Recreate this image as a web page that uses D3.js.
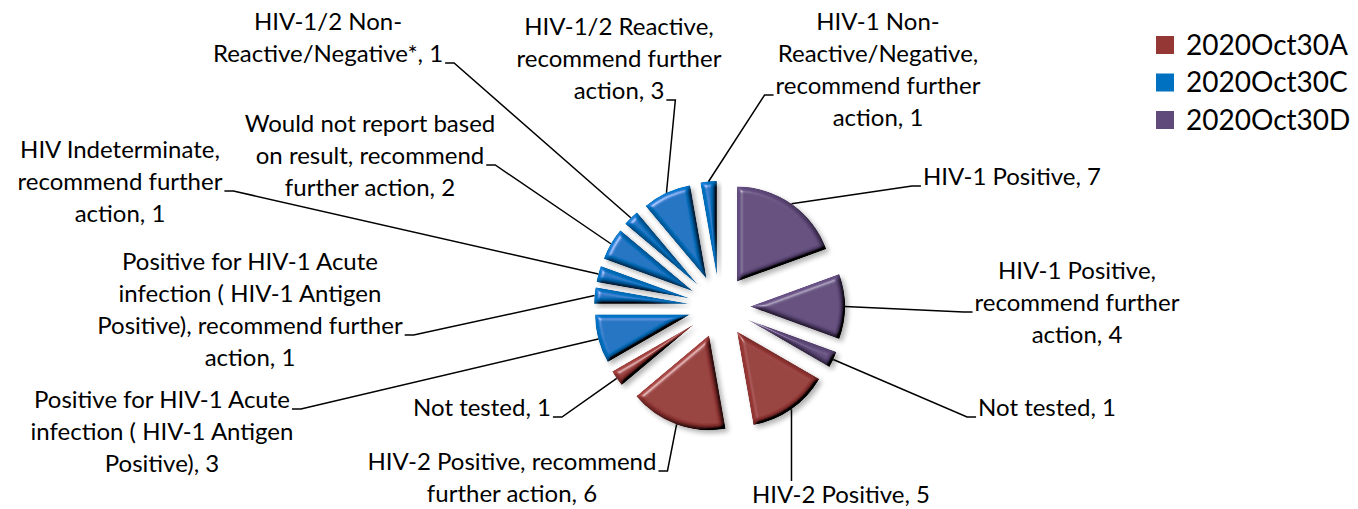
<!DOCTYPE html>
<html>
<head>
<meta charset="utf-8">
<script src="https://cdn.jsdelivr.net/npm/d3@7"></script>
<style>
  body { margin: 0; background: #fff; }
  text { font-family: Lato, "Open Sans", sans-serif; fill: #000; }
</style>
</head>
<body>
<script>
// data, clockwise from 12 o'clock
var categories = [
  "HIV-1 Positive",
  "HIV-1 Positive, recommend further action",
  "Not tested",
  "HIV-2 Positive",
  "HIV-2 Positive, recommend further action",
  "Not tested",
  "Positive for HIV-1 Acute infection ( HIV-1 Antigen Positive)",
  "Positive for HIV-1 Acute infection ( HIV-1 Antigen Positive), recommend further action",
  "HIV Indeterminate, recommend further action",
  "Would not report based on result, recommend further action",
  "HIV-1/2 Non-Reactive/Negative*",
  "HIV-1/2 Reactive, recommend further action",
  "HIV-1 Non-Reactive/Negative, recommend further action"
]
var counts = [7, 4, 1, 5, 6, 1, 3, 1, 1, 2, 1, 3, 1]
var samples = ["2020Oct30D", "2020Oct30D", "2020Oct30D",
  "2020Oct30A", "2020Oct30A", "2020Oct30A",
  "2020Oct30C", "2020Oct30C", "2020Oct30C", "2020Oct30C", "2020Oct30C", "2020Oct30C", "2020Oct30C"]
var legendItems = ["2020Oct30A", "2020Oct30C", "2020Oct30D"]

// where each label sits (wrapped like the original), and which side the leader leaves from
var labelLayout = [
  {wrap: ["HIV-1 Positive"], x: 1012, y: 177, tick: 0, side: "left"},
  {wrap: ["HIV-1 Positive,", "recommend further", "action"], x: 1077, y: 271, tick: 1, side: "left"},
  {wrap: ["Not tested"], x: 1047, y: 408, tick: 0, side: "left"},
  {wrap: ["HIV-2 Positive"], x: 841, y: 495, tick: 0, side: "top"},
  {wrap: ["HIV-2 Positive, recommend", "further action"], x: 512, y: 462, tick: 0, side: "right"},
  {wrap: ["Not tested"], x: 482, y: 408, tick: 0, side: "right"},
  {wrap: ["Positive for HIV-1 Acute", "infection ( HIV-1 Antigen", "Positive)"], x: 162, y: 400, tick: 0, side: "right"},
  {wrap: ["Positive for HIV-1 Acute", "infection ( HIV-1 Antigen", "Positive), recommend further", "action"], x: 250, y: 262, tick: 2, side: "right"},
  {wrap: ["HIV Indeterminate,", "recommend further", "action"], x: 120, y: 150, tick: 1, side: "right"},
  {wrap: ["Would not report based", "on result, recommend", "further action"], x: 370, y: 124, tick: 1, side: "right"},
  {wrap: ["HIV-1/2 Non-", "Reactive/Negative*"], x: 328, y: 22, tick: 1, side: "right"},
  {wrap: ["HIV-1/2 Reactive,", "recommend further", "action"], x: 619, y: 27, tick: 2, side: "right"},
  {wrap: ["HIV-1 Non-", "Reactive/Negative,", "recommend further", "action"], x: 878, y: 22, tick: 2, side: "left"}
]

var W = 1358, H = 509
var cx = 719.5, cy = 306.5, radius = 95, explode = 30.5
var lineH = 32, fontSize = 24

var color = d3.scaleOrdinal()
  .domain(legendItems)
  .range(["#953735", "#0070c0", "#604a7b"])

var svg = d3.select("body").append("svg")
  .attr("width", W)
  .attr("height", H)

var defs = svg.append("defs")

// office-like bevel + soft shadow
var bevel = defs.append("filter")
  .attr("id", "bevel")
  .attr("x", "-30%").attr("y", "-30%")
  .attr("width", "160%").attr("height", "160%")
bevel.append("feGaussianBlur")
  .attr("in", "SourceAlpha").attr("stdDeviation", 2.8).attr("result", "blur")
var diff = bevel.append("feDiffuseLighting")
  .attr("in", "blur").attr("surfaceScale", 6).attr("diffuseConstant", 1)
  .attr("lighting-color", "#fff").attr("result", "diff")
diff.append("feDistantLight").attr("azimuth", 225).attr("elevation", 50)
bevel.append("feComposite")
  .attr("in", "SourceGraphic").attr("in2", "diff")
  .attr("operator", "arithmetic")
  .attr("k1", 1.3).attr("k2", 0).attr("k3", 0).attr("k4", 0)
  .attr("result", "shaded")
var spec = bevel.append("feSpecularLighting")
  .attr("in", "blur").attr("surfaceScale", 6).attr("specularConstant", 0.8)
  .attr("specularExponent", 25).attr("lighting-color", "#fff").attr("result", "spec")
spec.append("feDistantLight").attr("azimuth", 225).attr("elevation", 35)
bevel.append("feComposite")
  .attr("in", "shaded").attr("in2", "spec")
  .attr("operator", "arithmetic")
  .attr("k1", 0).attr("k2", 1).attr("k3", 0.5).attr("k4", 0)
  .attr("result", "lit")
bevel.append("feComposite")
  .attr("in", "lit").attr("in2", "SourceAlpha").attr("operator", "in").attr("result", "clip")
bevel.append("feGaussianBlur")
  .attr("in", "SourceAlpha").attr("stdDeviation", 2.5).attr("result", "sblur")
bevel.append("feOffset")
  .attr("in", "sblur").attr("dx", 3).attr("dy", 3).attr("result", "soff")
bevel.append("feComponentTransfer")
  .attr("in", "soff").attr("result", "shadow")
  .append("feFuncA").attr("type", "linear").attr("slope", 0.3)
var merge = bevel.append("feMerge")
merge.append("feMergeNode").attr("in", "shadow")
merge.append("feMergeNode").attr("in", "clip")

var pie = d3.pie().sort(null).value(function(d) { return d })
var arcs = pie(counts)

var arc = d3.arc().innerRadius(0).outerRadius(radius)
// outer edge of each exploded slice, where leaders attach
var edgeArc = d3.arc().innerRadius(radius + explode).outerRadius(radius + explode)

function mid(d) { return (d.startAngle + d.endAngle) / 2 }

var pieG = svg.append("g").attr("transform", "translate(" + cx + "," + cy + ")")

pieG.selectAll("path.slice")
  .data(arcs)
  .enter()
  .append("path")
  .attr("class", "slice")
  .attr("d", arc)
  .attr("fill", function(d, i) { return color(samples[i]) })
  .attr("filter", "url(#bevel)")
  .attr("transform", function(d) {
    var a = mid(d)
    return "translate(" + explode * Math.sin(a) + "," + (-explode * Math.cos(a)) + ")"
  })

// labels
var labelG = svg.append("g")
var leaderG = svg.append("g")

arcs.forEach(function(d, i) {
  var L = labelLayout[i]
  var lines = L.wrap.slice()
  lines[lines.length - 1] += ", " + counts[i]

  var t = labelG.append("text")
    .attr("text-anchor", "middle")
    .attr("font-size", fontSize)
  var widths = []
  lines.forEach(function(s, k) {
    var ts = t.append("tspan")
      .attr("x", L.x)
      .attr("y", L.y + k * lineH)
      .attr("dy", "0.35em")
      .text(s)
    widths.push(ts.node().getComputedTextLength())
  })

  var p = edgeArc.centroid(d)
  var px = cx + p[0], py = cy + p[1]
  var ly = L.y + L.tick * lineH + 9
  var pts
  if (L.side == "right") {
    var x0 = L.x + widths[L.tick] / 2 + 2
    pts = [[x0, ly], [x0 + 9, ly], [px, py]]
  } else if (L.side == "left") {
    var x1 = L.x - widths[L.tick] / 2 - 2
    pts = [[x1, ly], [x1 - 9, ly], [px, py]]
  } else {
    pts = [[px, L.y - 14], [px, py]]
  }
  leaderG.append("path")
    .attr("d", d3.line()(pts))
    .attr("fill", "none")
    .attr("stroke", "#000")
    .attr("stroke-width", 1.5)
})

// legend
var legend = svg.append("g").attr("transform", "translate(1156,45)")
var items = legend.selectAll("g")
  .data(legendItems)
  .enter()
  .append("g")
  .attr("transform", function(d, i) { return "translate(0," + i * 37.5 + ")" })
items.append("rect")
  .attr("x", 0).attr("y", -9)
  .attr("width", 18).attr("height", 18)
  .attr("fill", function(d) { return color(d) })
items.append("text")
  .attr("x", 30)
  .attr("dy", "0.35em")
  .attr("font-size", 28)
  .text(function(d) { return d })
</script>
</body>
</html>
